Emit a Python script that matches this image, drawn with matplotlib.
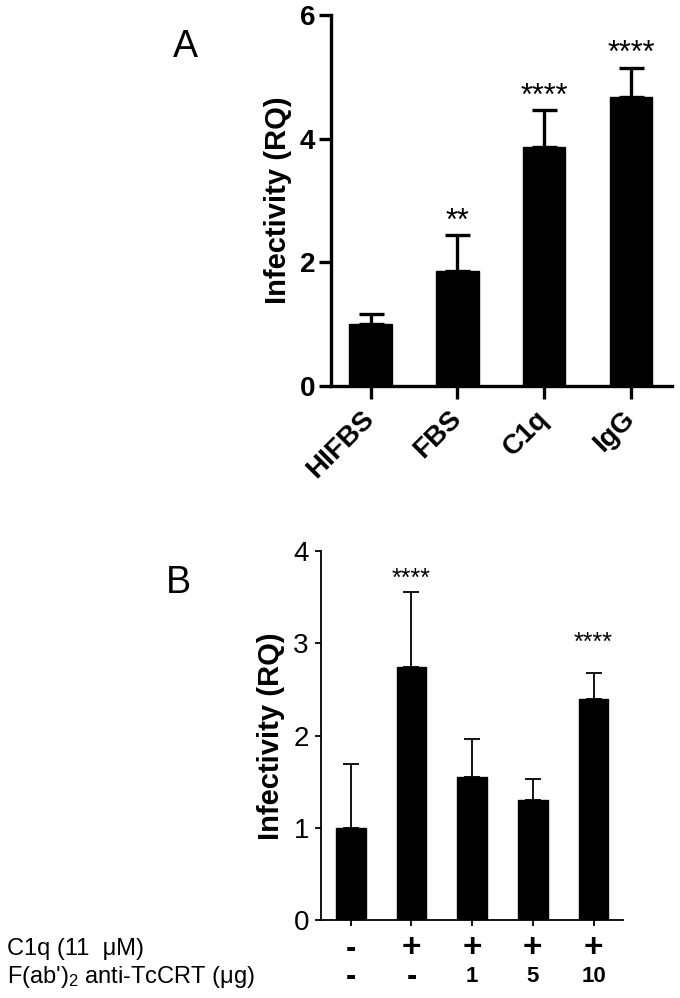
import matplotlib
matplotlib.use("Agg")
from matplotlib import pyplot as plt
import numpy as np

plt.rcParams["font.family"] = ["Liberation Sans", "DejaVu Sans"]
plt.rcParams["mathtext.fontset"] = "custom"
plt.rcParams["mathtext.rm"] = "Liberation Sans"
plt.rcParams["mathtext.default"] = "regular"

# panel A
groups_a = ["HIFBS", "FBS", "C1q", "IgG"]
means_a = [1.0, 1.86, 3.87, 4.67]
sd_a = [0.17, 0.58, 0.60, 0.48]
stars_a = ["", "**", "****", "****"]
star_y_a = [0, 2.52, 4.54, 5.24]

# panel B
means_b = [1.0, 2.74, 1.55, 1.30, 2.40]
sd_b = [0.69, 0.82, 0.41, 0.23, 0.28]
c1q_row = ["-", "+", "+", "+", "+"]
fab_row = ["-", "-", "1", "5", "10"]
stars_b = ["", "****", "", "", "****"]
star_y_b = [0, 3.62, 0, 0, 2.93]

fig = plt.figure(figsize=(6.8, 9.98), dpi=100)

# ---- A ----
ax_a = fig.add_axes([0.4863, 0.6132, 0.5015, 0.3718])
xa = np.arange(len(groups_a))
ax_a.bar(xa, means_a, width=0.49, color="black", edgecolor="black", zorder=2)
ax_a.errorbar(xa, means_a, yerr=[np.zeros(len(sd_a)), sd_a], fmt="none",
              ecolor="black", elinewidth=2.4, capsize=9, capthick=2.4, zorder=1)
for x, s, y in zip(xa, stars_a, star_y_a):
    if s:
        ax_a.text(x, y, s, ha="center", va="baseline", fontsize=22)
ax_a.set_xlim(-0.46, 3.47)
ax_a.set_ylim(0, 6)
ax_a.set_yticks([0, 2, 4, 6])
ax_a.set_xticks(xa)
ax_a.set_xticklabels(groups_a, rotation=45, ha="right", va="center",
                     rotation_mode="anchor", fontsize=20, fontweight="bold")
ax_a.tick_params(axis="y", labelsize=20, width=2.4, length=9, pad=2)
ax_a.tick_params(axis="x", width=2.4, length=9, pad=12)
for lab in ax_a.get_yticklabels():
    lab.set_fontweight("bold")
ax_a.spines["top"].set_visible(False)
ax_a.spines["right"].set_visible(False)
ax_a.spines["left"].set_linewidth(2.4)
ax_a.spines["bottom"].set_linewidth(2.4)
ax_a.set_ylabel("Infectivity (RQ)", fontsize=21, fontweight="bold", labelpad=6)

# ---- B ----
ax_b = fig.add_axes([0.4716, 0.0777, 0.4450, 0.3702])
xb = np.arange(len(means_b))
ax_b.bar(xb, means_b, width=0.49, color="black", edgecolor="black", zorder=2)
ax_b.errorbar(xb, means_b, yerr=[np.zeros(len(sd_b)), sd_b], fmt="none",
              ecolor="black", elinewidth=1.3, capsize=6, capthick=1.3, zorder=1)
for x, s, y in zip(xb, stars_b, star_y_b):
    if s:
        ax_b.text(x, y, s, ha="center", va="baseline", fontsize=18)
ax_b.set_xlim(-0.494, 4.49)
ax_b.set_ylim(0, 4)
ax_b.set_yticks([0, 1, 2, 3, 4])
ax_b.set_xticks(xb)
ax_b.set_xticklabels([""] * len(xb))
ax_b.tick_params(axis="y", labelsize=20, width=1.3, length=4.5, pad=4)
ax_b.tick_params(axis="x", width=1.3, length=4)
ax_b.spines["top"].set_visible(False)
ax_b.spines["right"].set_visible(False)
ax_b.spines["left"].set_linewidth(1.3)
ax_b.spines["bottom"].set_linewidth(1.3)
ax_b.set_ylabel("Infectivity (RQ)", fontsize=21, fontweight="bold", labelpad=6)

tr = ax_b.get_xaxis_transform()
for x, a, b in zip(xb, c1q_row, fab_row):
    ax_b.text(x, -0.076, a, transform=tr, ha="center", va="center",
              fontsize=24 if a == "+" else 22, fontweight="bold")
    ax_b.text(x, -0.152, b, transform=tr, ha="center", va="center",
              fontsize=22 if b == "-" else 16, fontweight="bold")

fig.text(0.010, 0.049, "C1q (11  \u03bcM)", fontsize=17, va="center")
fig.text(0.010, 0.021, "F(ab')$_2$ anti-TcCRT (\u03bcg)", fontsize=17, va="center")

fig.text(185 / 680, 1 - 47 / 998, "A", fontsize=27, ha="center", va="center")
fig.text(178 / 680, 1 - 583 / 998, "B", fontsize=27, ha="center", va="center")

fig.savefig("out.png", dpi=100)
